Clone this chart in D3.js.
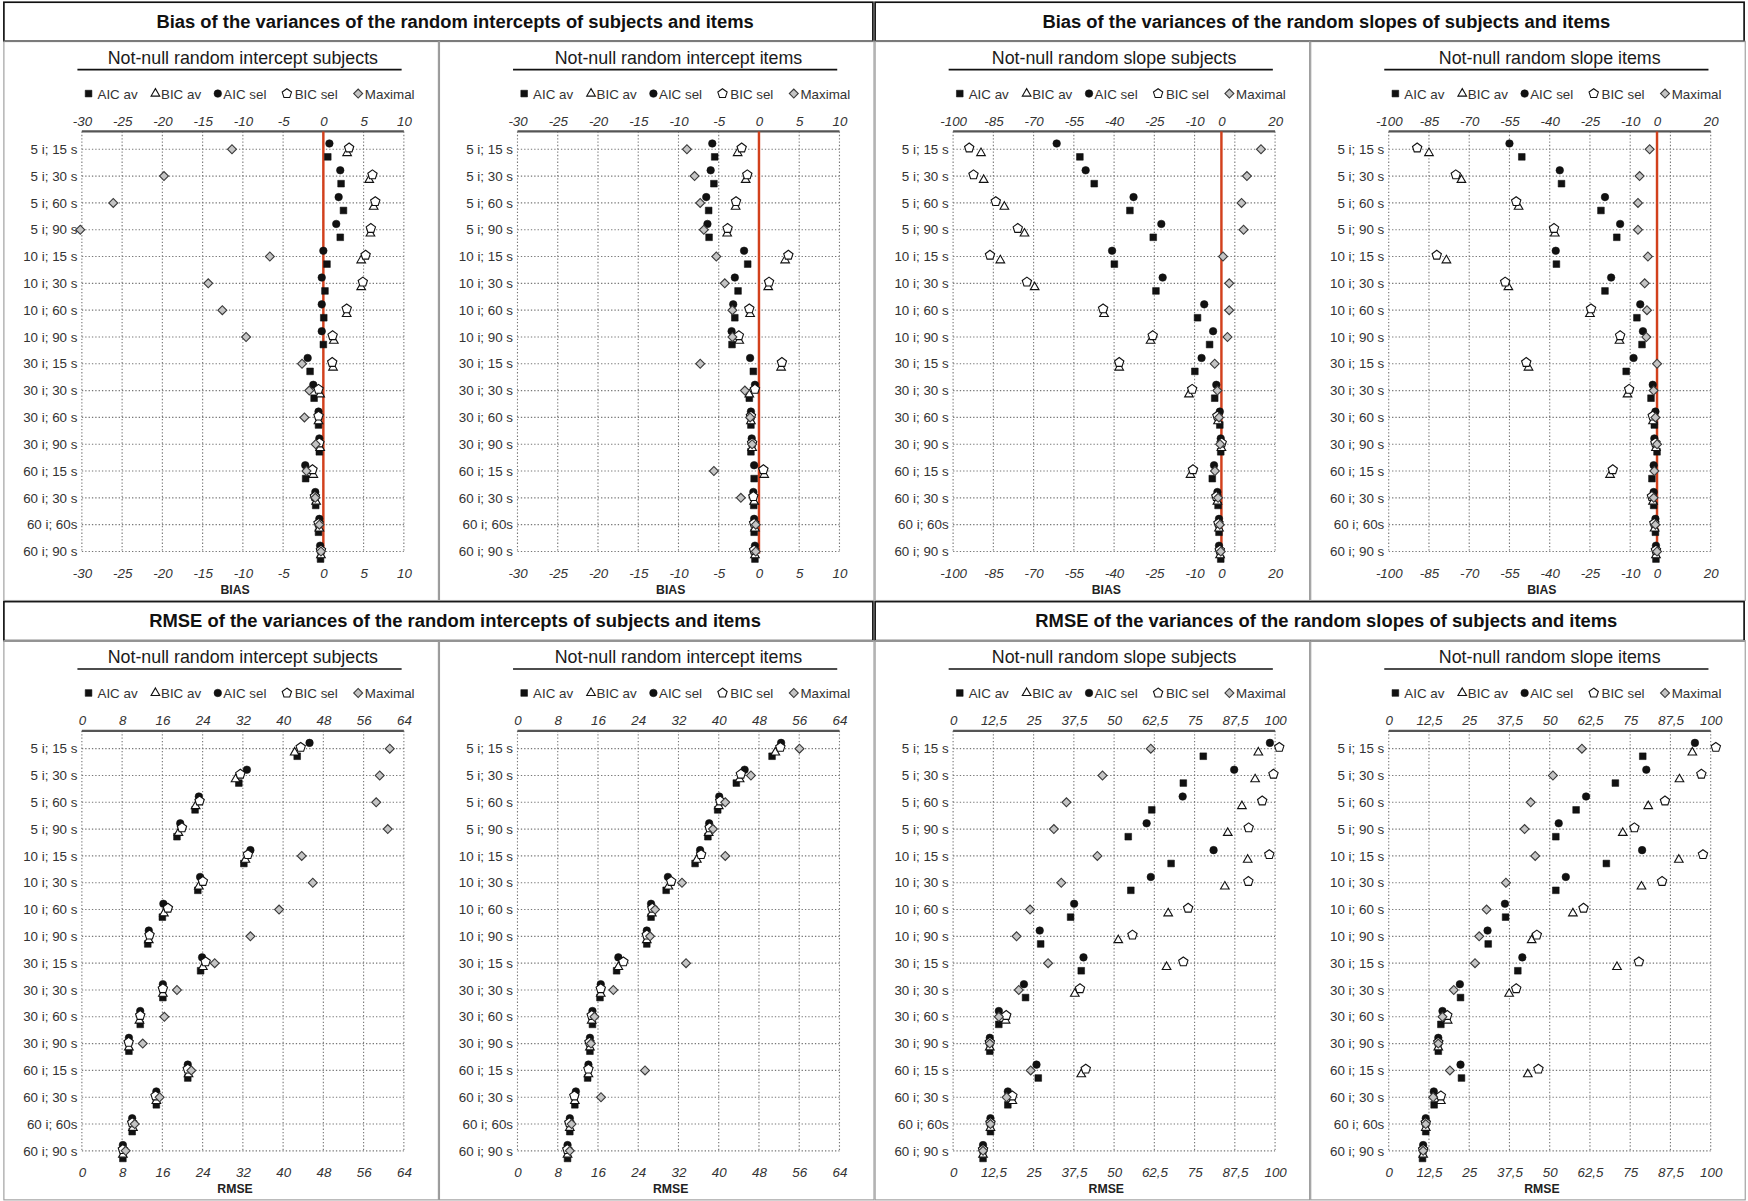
<!DOCTYPE html>
<html><head><meta charset="utf-8">
<script src="https://cdn.jsdelivr.net/npm/d3@7"></script>
<style>
body{margin:0;background:#fff}
svg{display:block;font-family:"Liberation Sans",Arial,sans-serif}
</style>
</head><body><svg id="chart"></svg>
<script>
// ---------- DATA ----------
const categories = ["5 i; 15 s","5 i; 30 s","5 i; 60 s","5 i; 90 s","10 i; 15 s","10 i; 30 s","10 i; 60 s","10 i; 90 s","30 i; 15 s","30 i; 30 s","30 i; 60 s","30 i; 90 s","60 i; 15 s","60 i; 30 s","60 i; 60s","60 i; 90 s"];
const seriesNames = ["AIC av","BIC av","AIC sel","BIC sel","Maximal"];

const headerTitles = ["Bias of the variances of the random intercepts of subjects and items","Bias of the variances of the random slopes of subjects and items","RMSE of the variances of the random intercepts of subjects and items","RMSE of the variances of the random slopes of subjects and items"];
const panelTitles = ["Not-null random intercept subjects","Not-null random intercept items","Not-null random slope subjects","Not-null random slope items"];

// Bias – random intercept subjects
const biasIntSubj_AICav  = [0.55,2.2,2.5,2.1,0.45,0.2,0.05,0,-1.65,-1.15,-0.6,-0.5,-2.2,-0.95,-0.6,-0.35];
const biasIntSubj_BICav  = [2.95,5.7,6.25,5.85,4.7,4.7,2.9,1.3,1.2,-0.4,-0.6,-0.4,-1.25,-0.9,-0.5,-0.3];
const biasIntSubj_AICsel = [0.75,2.1,1.9,1.6,0,-0.2,-0.2,-0.2,-1.95,-1.25,-0.6,-0.5,-2.25,-1.0,-0.5,-0.4];
const biasIntSubj_BICsel = [3.2,6.1,6.45,5.9,5.25,4.9,2.9,1.15,1.1,-0.6,-0.6,-0.5,-1.35,-1.05,-0.6,-0.3];
const biasIntSubj_Max    = [-11.35,-19.8,-26.1,-30.2,-6.65,-14.3,-12.55,-9.6,-2.65,-1.75,-2.35,-0.95,-2.1,-1.0,-0.5,-0.3];
// Bias – random intercept items
const biasIntItem_AICav  = [-5.5,-5.6,-6.25,-6.2,-1.4,-2.6,-3.0,-3.35,-0.7,-1.2,-1.0,-1.0,-0.6,-0.65,-0.6,-0.5];
const biasIntItem_BICav  = [-2.65,-1.65,-2.9,-3.95,3.25,1.15,-1.1,-2.45,2.75,-1.2,-1.0,-0.85,0.65,-0.6,-0.5,-0.5];
const biasIntItem_AICsel = [-5.8,-6.0,-6.55,-6.4,-1.85,-3.0,-3.2,-3.4,-1.1,-0.5,-1.0,-0.9,-0.6,-0.7,-0.6,-0.5];
const biasIntItem_BICsel = [-2.15,-1.45,-2.85,-3.9,3.65,1.25,-1.2,-2.5,2.85,-0.5,-1.0,-0.85,0.55,-0.7,-0.6,-0.6];
const biasIntItem_Max    = [-8.95,-8.0,-7.3,-6.85,-5.3,-4.25,-3.3,-3.3,-7.3,-1.75,-1.1,-0.85,-5.6,-2.25,-0.4,-0.4];
// Bias – random slope subjects
const biasSlpSubj_AICav  = [-52.75,-47.4,-34.1,-25.4,-39.9,-24.4,-8.9,-4.4,-9.9,-2.5,-0.6,-0.25,-3.4,-1.25,-0.9,-0.25];
const biasSlpSubj_BICav  = [-89.6,-88.6,-80.9,-73.4,-82.4,-69.6,-43.75,-26.4,-38.1,-12.1,-1.25,0,-11.5,-1.5,-0.9,-0.5];
const biasSlpSubj_AICsel = [-61.4,-50.6,-32.75,-22.4,-40.75,-21.9,-6.4,-3.1,-7.4,-1.9,-0.6,-0.25,-2.75,-1.5,-0.9,-0.9];
const biasSlpSubj_BICsel = [-94,-92.4,-84.1,-75.9,-86.25,-72.5,-44.1,-25.6,-38.1,-10.9,-1.5,0.1,-10.6,-1.9,-1.1,-0.6];
const biasSlpSubj_Max    = [14.75,9.5,7.5,8.25,0.6,2.9,2.9,2.25,-2.5,-1.5,-0.9,-0.5,-2.4,-1.25,-0.6,-0.25];
// Bias – random slope items
const biasSlpItem_AICav  = [-50.4,-35.6,-20.9,-15,-37.5,-19.4,-7.5,-5.6,-11.5,-2.25,-1,0,-1.9,-1.25,-0.6,-0.4];
const biasSlpItem_BICav  = [-85,-72.9,-51.6,-38.1,-78.5,-55.4,-25,-14,-47.9,-11,-1.5,-0.4,-17.5,-1.5,-0.9,-0.4];
const biasSlpItem_AICsel = [-55,-36.25,-19.4,-13.75,-37.75,-17.1,-6.25,-5.25,-8.75,-1.6,-0.6,-1,-1.25,-1.25,-0.6,-0.4];
const biasSlpItem_BICsel = [-89.4,-75,-52.5,-38.4,-82.1,-56.6,-24.6,-13.75,-48.75,-10.4,-1.6,-0.6,-16.5,-1.9,-1,-0.4];
const biasSlpItem_Max    = [-2.75,-6.5,-7.1,-7.1,-3.4,-4.6,-3.75,-4,0,-1.25,-0.6,0,-1,-1.25,-0.6,0];
// RMSE – random intercept subjects
const rmseIntSubj_AICav  = [42.8,31.2,22.5,18.9,32.2,23.05,16,13.1,23.6,16.1,11.6,9.35,21.05,14.8,10.0,8.15];
const rmseIntSubj_BICav  = [42.3,30.55,22.6,19.2,32.5,23.25,16.3,13.3,24.05,16.1,11.45,9.35,21.2,14.8,10.15,8.15];
const rmseIntSubj_AICsel = [45.25,32.8,23.25,19.55,33.5,23.5,16.2,13.3,23.9,16.1,11.6,9.35,21.05,14.8,10.0,8.15];
const rmseIntSubj_BICsel = [43.5,31.5,23.4,19.9,33,24.05,17.1,13.45,24.6,16.1,11.6,9.3,21.05,14.65,10.0,8.15];
const rmseIntSubj_Max    = [61.2,59.2,58.5,60.8,43.7,45.9,39.2,33.5,26.4,18.9,16.4,12.1,21.75,15.45,10.5,8.7];
// RMSE – random intercept items
const rmseIntItem_AICav  = [50.6,43.5,39.8,37.85,35.3,29.55,26.55,25.7,19.7,16.4,14.9,14.4,13.95,11.4,10.4,9.95];
const rmseIntItem_BICav  = [51.25,44.15,40,38,35.65,30,26.7,25.7,20.05,16.55,14.75,14.4,14.1,11.4,10.4,9.95];
const rmseIntItem_AICsel = [52.4,45.15,40.1,38.1,36.3,29.9,26.55,25.7,20.05,16.55,14.9,14.4,14.1,11.6,10.4,9.95];
const rmseIntItem_BICsel = [52.25,44.4,40.3,38.2,36.5,30.55,26.8,25.7,21.05,16.55,14.75,14.3,14.1,11.3,10.3,9.9];
const rmseIntItem_Max    = [56.05,46.4,41.3,38.85,41.3,32.7,27.35,26.35,33.5,19.05,15.3,14.6,25.35,16.6,10.75,10.4];
// RMSE – random slope subjects
const rmseSlpSubj_AICav  = [77.7,71.5,61.7,54.4,67.7,55.2,36.5,27.2,39.8,22.5,14.2,11.4,26.45,17,11.6,9.3];
const rmseSlpSubj_BICav  = [94.8,93.8,89.7,85.3,91.5,84.4,66.8,51.3,66.3,37.8,16.3,11.4,39.8,18.4,11.6,9.3];
const rmseSlpSubj_AICsel = [98.4,87.3,71.3,60.1,80.9,61.4,37.6,26.9,40.5,22,14.2,11.4,25.9,17,11.6,9.3];
const rmseSlpSubj_BICsel = [101.3,99.5,96,91.8,98.2,91.7,73,55.7,71.5,39.4,16.5,11.4,41.2,18.4,11.6,9.3];
const rmseSlpSubj_Max    = [61.4,46.4,35.2,31.3,44.8,33.6,23.9,19.7,29.5,20.4,14.2,11.4,24.1,16.6,11.6,9.3];
// RMSE – random slope items
const rmseSlpItem_AICav  = [78.9,70.4,58.2,51.9,67.6,51.9,36.3,30.9,40.1,22.3,16.2,15.4,22.6,14.1,11.5,10.5];
const rmseSlpItem_BICav  = [94.3,90.3,80.6,72.7,90.1,78.5,57.2,44.4,70.9,37.4,18.3,15.4,43.2,16.2,11.5,10.7];
const rmseSlpItem_AICsel = [95.1,80,61.3,52.8,78.7,55,36.1,30.7,41.5,22.1,16.7,15.4,22.3,14,11.5,10.7];
const rmseSlpItem_BICsel = [101.6,97.1,85.8,76.3,97.6,84.9,60.5,46,77.7,39.6,18.2,15.4,46.5,16.2,11.5,10.7];
const rmseSlpItem_Max    = [60,51,44.1,42.2,45.5,36.4,30.4,28.1,26.8,20.2,16.7,15.4,19,13.8,11.5,10.7];

// Tick values / labels
const biasIntTicks = [-30,-25,-20,-15,-10,-5,0,5,10];
const biasSlpGrid = [-100,-85,-70,-55,-40,-25,-10,5,20];
const biasSlpLabels = [-100,-85,-70,-55,-40,-25,-10,0,20];
const rmseIntTicks = [0,8,16,24,32,40,48,56,64];
const rmseSlpTicks = [0,12.5,25,37.5,50,62.5,75,87.5,100];

// ---------- LAYOUT ----------
const W = 1568, H = 1078;
const svg = d3.select("#chart").attr("width",1748).attr("height",1201).attr("viewBox",`0 0 ${W} ${H}`);
svg.append("rect").attr("width",W).attr("height",H).attr("fill","#fff");

const boxX = [3,394,785,1176], boxW = 390;
const panels = [
  {c:0,r:0,title:panelTitles[0],series:[biasIntSubj_AICav,biasIntSubj_BICav,biasIntSubj_AICsel,biasIntSubj_BICsel,biasIntSubj_Max],domain:[-30,10],grid:biasIntTicks,labels:biasIntTicks,name:"BIAS",zero:true},
  {c:1,r:0,title:panelTitles[1],series:[biasIntItem_AICav,biasIntItem_BICav,biasIntItem_AICsel,biasIntItem_BICsel,biasIntItem_Max],domain:[-30,10],grid:biasIntTicks,labels:biasIntTicks,name:"BIAS",zero:true},
  {c:2,r:0,title:panelTitles[2],series:[biasSlpSubj_AICav,biasSlpSubj_BICav,biasSlpSubj_AICsel,biasSlpSubj_BICsel,biasSlpSubj_Max],domain:[-100,20],grid:biasSlpGrid,labels:biasSlpLabels,name:"BIAS",zero:true},
  {c:3,r:0,title:panelTitles[3],series:[biasSlpItem_AICav,biasSlpItem_BICav,biasSlpItem_AICsel,biasSlpItem_BICsel,biasSlpItem_Max],domain:[-100,20],grid:biasSlpGrid,labels:biasSlpLabels,name:"BIAS",zero:true},
  {c:0,r:1,title:panelTitles[0],series:[rmseIntSubj_AICav,rmseIntSubj_BICav,rmseIntSubj_AICsel,rmseIntSubj_BICsel,rmseIntSubj_Max],domain:[0,64],grid:rmseIntTicks,labels:rmseIntTicks,name:"RMSE",zero:false},
  {c:1,r:1,title:panelTitles[1],series:[rmseIntItem_AICav,rmseIntItem_BICav,rmseIntItem_AICsel,rmseIntItem_BICsel,rmseIntItem_Max],domain:[0,64],grid:rmseIntTicks,labels:rmseIntTicks,name:"RMSE",zero:false},
  {c:2,r:1,title:panelTitles[2],series:[rmseSlpSubj_AICav,rmseSlpSubj_BICav,rmseSlpSubj_AICsel,rmseSlpSubj_BICsel,rmseSlpSubj_Max],domain:[0,100],grid:rmseSlpTicks,labels:rmseSlpTicks,name:"RMSE",zero:false},
  {c:3,r:1,title:panelTitles[3],series:[rmseSlpItem_AICav,rmseSlpItem_BICav,rmseSlpItem_AICsel,rmseSlpItem_BICsel,rmseSlpItem_Max],domain:[0,100],grid:rmseSlpTicks,labels:rmseSlpTicks,name:"RMSE",zero:false}
];

// marker shapes
function pentagon(r){
  const p=[];for(let i=0;i<5;i++){const a=-Math.PI/2+i*2*Math.PI/5;p.push([r*Math.cos(a),r*Math.sin(a)]);}
  return "M"+p.map(d=>d[0].toFixed(2)+","+d[1].toFixed(2)).join("L")+"Z";
}
const styles = [
  {path:d3.symbol(d3.symbolSquare,36)(), fill:"#111", stroke:"#111", sw:0.5, dy:6.8, rot:0},
  {path:d3.symbol(d3.symbolTriangle,26)(), fill:"#fff", stroke:"#111", sw:1, dy:3.4, rot:0},
  {path:d3.symbol(d3.symbolCircle,36)(), fill:"#111", stroke:"#111", sw:0.5, dy:-5.2, rot:0},
  {path:pentagon(4.4), fill:"#fff", stroke:"#111", sw:1, dy:-1.2, rot:0},
  {path:d3.symbol(d3.symbolSquare,32)(), fill:"#c4c4c4", stroke:"#3a3a3a", sw:1, dy:0, rot:45}
];
function mark(g, s, x, y){
  g.append("path").attr("d",s.path).attr("fill",s.fill).attr("stroke",s.stroke).attr("stroke-width",s.sw)
   .attr("transform",`translate(${x},${y}) rotate(${s.rot})`);
}

// header boxes
const headerX = [[3,783],[785,1565]];
for(let r=0;r<2;r++){
  for(let h=0;h<2;h++){
    const y0 = 2 + r*538;
    svg.append("rect").attr("x",headerX[h][0]).attr("y",y0).attr("width",headerX[h][1]-headerX[h][0]).attr("height",35)
      .attr("fill","none").attr("stroke","#111").attr("stroke-width",1.5);
    svg.append("text").attr("x",(headerX[h][0]+headerX[h][1])/2+15).attr("y",y0+23).attr("text-anchor","middle")
      .attr("font-size",16.5).attr("font-weight","bold").attr("fill","#111").text(headerTitles[r*2+h]);
  }
}

const fmt = d => String(d).replace(".",",");

panels.forEach(p=>{
  const bx = boxX[p.c], oy = p.r*538;
  const g = svg.append("g");
  g.append("rect").attr("x",bx).attr("y",37+oy).attr("width",boxW).attr("height",502)
    .attr("fill","none").attr("stroke","#9a9a9a").attr("stroke-width",1);

  const x0 = bx+70, x1 = bx+359;
  const x = d3.scaleLinear().domain(p.domain).range([x0,x1]);
  const y = d3.scalePoint().domain(categories).range([134+oy,495+oy]);
  const yTop = 118+oy, yBot = 495+oy;

  // subtitle
  g.append("text").attr("x",(x0+x1)/2).attr("y",57+oy).attr("text-anchor","middle").attr("font-size",16).attr("fill","#1a1a1a").text(p.title);
  g.append("line").attr("x1",x0-4).attr("x2",x1-2).attr("y1",62.5+oy).attr("y2",62.5+oy).attr("stroke","#111").attr("stroke-width",1.5);

  // legend
  const legOff = [[6,14],[66,71],[122,127],[184,191],[248,254]];
  seriesNames.forEach((n,i)=>{
    const s = Object.assign({},styles[i]);
    mark(g,s,x0+legOff[i][0],84+oy);
    g.append("text").attr("x",x0+legOff[i][1]).attr("y",88.5+oy).attr("font-size",12).attr("fill","#333").text(n);
  });

  // grid
  g.selectAll(null).data(p.grid).join("line")
    .attr("x1",d=>x(d)).attr("x2",d=>x(d)).attr("y1",yTop).attr("y2",yBot)
    .attr("stroke","#777").attr("stroke-width",1).attr("stroke-dasharray","1.2,1.8");
  g.selectAll(null).data(categories).join("line")
    .attr("x1",x0).attr("x2",x1).attr("y1",d=>y(d)).attr("y2",d=>y(d))
    .attr("stroke","#777").attr("stroke-width",1).attr("stroke-dasharray","1.2,1.8");

  // top axis line
  g.append("line").attr("x1",x0).attr("x2",x1).attr("y1",yTop).attr("y2",yTop).attr("stroke","#555").attr("stroke-width",2);

  // tick labels
  const axT = g.append("g").attr("transform",`translate(0,${yTop})`)
    .call(d3.axisTop(x).tickValues(p.labels).tickSize(0).tickPadding(5).tickFormat(fmt));
  const axB = g.append("g").attr("transform",`translate(0,${yBot})`)
    .call(d3.axisBottom(x).tickValues(p.labels).tickSize(0).tickPadding(15).tickFormat(fmt));
  [axT,axB].forEach(a=>{
    a.select(".domain").remove();
    a.selectAll("text").attr("font-size",12).attr("font-style","italic").attr("fill","#333")
      .attr("font-family","'Liberation Sans',Arial,sans-serif");
  });

  // row labels
  g.selectAll(null).data(categories).join("text")
    .attr("x",x0-4).attr("y",d=>y(d)).attr("dy","0.35em").attr("text-anchor","end")
    .attr("font-size",12).attr("fill","#333").text(d=>d);

  // axis name
  g.append("text").attr("x",(x0+x1)/2-7).attr("y",533+oy).attr("text-anchor","middle")
    .attr("font-size",11).attr("font-weight","bold").attr("fill","#222").text(p.name);

  // zero line
  if(p.zero){
    g.append("line").attr("x1",x(0)).attr("x2",x(0)).attr("y1",yTop).attr("y2",yBot+2)
      .attr("stroke","#d2401c").attr("stroke-width",2.2);
  }

  // points
  p.series.forEach((vals,i)=>{
    const s = styles[i];
    vals.forEach((v,k)=>{ mark(g,s,x(v),y(categories[k])+s.dy); });
  });
});
</script>
</body></html>
